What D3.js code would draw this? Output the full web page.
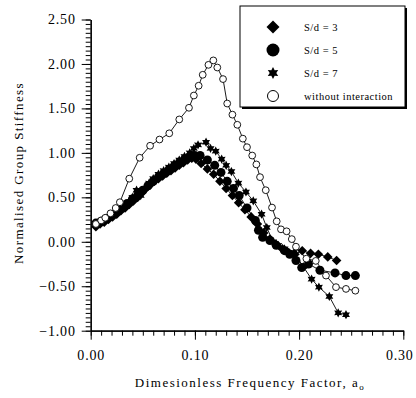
<!DOCTYPE html>
<html>
<head>
<meta charset="utf-8">
<script src="https://cdn.jsdelivr.net/npm/d3@7"></script>
<style>
  body { margin: 0; background: #fff; }
  svg text { font-family: "Liberation Serif", "Times New Roman", Times, serif !important; fill: #000; }
</style>
</head>
<body>
<div id="chart"></div>
<script>
// frequency factor a_o and normalised stiffness for each series
const sd3X = [0.005,0.009,0.013,0.017,0.021,0.025,0.029,0.033,0.037,0.041,0.045,0.049,0.053,0.057,0.061,0.065,0.069,0.073,0.077,0.081,0.085,0.089,0.093,0.097,0.101,0.106,0.112,0.118,0.124,0.130,0.136,0.142,0.148,0.154,0.160,0.166,0.172,0.178,0.184,0.190,0.196,0.203,0.211,0.2185,0.2275,0.236];
const sd3Y = [0.17,0.20,0.22,0.25,0.28,0.31,0.35,0.38,0.42,0.46,0.50,0.55,0.60,0.64,0.68,0.71,0.74,0.77,0.80,0.83,0.86,0.89,0.92,0.94,0.93,0.88,0.82,0.76,0.68,0.60,0.52,0.44,0.36,0.28,0.20,0.10,0.03,-0.03,-0.08,-0.12,-0.14,-0.10,-0.13,-0.14,-0.17,-0.21];

const sd5X = [0.005,0.010,0.015,0.020,0.025,0.030,0.035,0.040,0.045,0.050,0.055,0.060,0.065,0.070,0.075,0.080,0.085,0.090,0.095,0.100,0.105,0.112,0.119,0.125,0.131,0.137,0.1425,0.150,0.158,0.161,0.165,0.172,0.178,0.186,0.191,0.197,0.2025,0.209,0.220,0.2345,0.245,0.254];
const sd5Y = [0.21,0.23,0.26,0.30,0.34,0.38,0.43,0.48,0.52,0.58,0.63,0.68,0.73,0.77,0.81,0.85,0.89,0.93,0.96,0.97,0.97,0.92,0.86,0.78,0.68,0.60,0.52,0.38,0.24,0.13,0.05,0.015,-0.04,-0.10,-0.14,-0.21,-0.29,-0.25,-0.32,-0.35,-0.38,-0.38];

const sd7X = [0.005,0.010,0.015,0.020,0.025,0.030,0.035,0.040,0.044,0.048,0.052,0.056,0.060,0.065,0.070,0.075,0.080,0.085,0.090,0.095,0.099,0.103,0.1107,0.115,0.120,0.1257,0.130,0.135,0.1417,0.149,0.156,0.164,0.169,0.175,0.180,0.186,0.195,0.204,0.212,0.219,0.229,0.2375,0.245];
const sd7Y = [0.20,0.22,0.25,0.29,0.33,0.37,0.42,0.50,0.58,0.52,0.60,0.66,0.71,0.76,0.80,0.84,0.88,0.92,0.96,1.00,1.05,1.09,1.12,1.05,1.02,0.93,0.86,0.79,0.66,0.56,0.46,0.31,0.16,0.00,-0.04,-0.08,-0.12,-0.28,-0.42,-0.51,-0.615,-0.80,-0.82];

const noIntX = [0.005,0.010,0.014,0.019,0.024,0.028,0.037,0.047,0.057,0.066,0.0754,0.085,0.0943,0.099,0.1036,0.1075,0.113,0.1177,0.1215,0.127,0.131,0.136,0.1407,0.146,0.150,0.155,0.159,0.1625,0.168,0.174,0.1785,0.1826,0.188,0.193,0.197,0.207,0.216,0.2258,0.2354,0.245,0.254];
const noIntY = [0.20,0.24,0.27,0.32,0.38,0.445,0.71,0.945,1.08,1.15,1.22,1.376,1.507,1.645,1.755,1.878,1.99,2.04,1.96,1.83,1.555,1.43,1.316,1.16,1.064,0.97,0.87,0.727,0.58,0.385,0.23,0.14,0.118,0.03,-0.055,-0.19,-0.215,-0.38,-0.51,-0.53,-0.55];

const xTicks = [0, 0.1, 0.2, 0.3];
const yTicks = [-1, -0.5, 0, 0.5, 1, 1.5, 2, 2.5];
const legendLabels = ["S/d = 3", "S/d = 5", "S/d = 7", "without interaction"];

const W = 416, H = 398;
const svg = d3.select("#chart").append("svg").attr("width", W).attr("height", H)
  .attr("font-family", "Liberation Serif");

const x = d3.scaleLinear().domain([0, 0.3]).range([90.7, 403.3]);
const y = d3.scaleLinear().domain([-1, 2.5]).range([330.7, 19.5]);

// marker shapes
function hexagram(r) {
  const pts = [];
  for (let i = 0; i < 12; i++) {
    const a = Math.PI / 6 * i - Math.PI / 2;
    const rr = i % 2 === 0 ? r : r * 0.55;
    pts.push([rr * Math.cos(a), rr * Math.sin(a)]);
  }
  return "M" + pts.map(p => p.join(",")).join("L") + "Z";
}
function diamond(r) {
  return `M0,${-r}L${r},0L0,${r}L${-r},0Z`;
}

function drawMarker(g, kind) {
  if (kind === "diamond") g.append("path").attr("d", diamond(4.8)).attr("fill", "#000");
  else if (kind === "circle") g.append("circle").attr("r", 4.5).attr("fill", "#000");
  else if (kind === "star") g.append("path").attr("d", hexagram(4.6)).attr("fill", "#000");
  else g.append("circle").attr("r", 3.4).attr("fill", "#fff").attr("stroke", "#000").attr("stroke-width", 0.9);
}

const series = [
  { xs: sd3X, ys: sd3Y, kind: "diamond" },
  { xs: sd5X, ys: sd5Y, kind: "circle" },
  { xs: sd7X, ys: sd7Y, kind: "star" },
  { xs: noIntX, ys: noIntY, kind: "open" }
];

const line = d3.line().x(d => x(d[0])).y(d => y(d[1]));

// lines first, then markers
series.forEach(s => {
  const pts = s.xs.map((v, i) => [v, s.ys[i]]);
  svg.append("path").datum(pts)
    .attr("d", line).attr("fill", "none")
    .attr("stroke", "#000").attr("stroke-width", 0.9);
});
series.forEach(s => {
  const pts = s.xs.map((v, i) => [v, s.ys[i]]);
  svg.append("g").selectAll("g").data(pts).enter().append("g")
    .attr("transform", d => `translate(${x(d[0])},${y(d[1])})`)
    .each(function () { drawMarker(d3.select(this), s.kind); });
});

// axes
const minorX = d3.range(0, 0.3001, 0.01);
const minorY = d3.range(-1, 2.5001, 0.05);

const xAxisG = svg.append("g").attr("transform", `translate(0,${y(-1)})`);
xAxisG.call(d3.axisBottom(x).tickValues(minorX).tickSize(5).tickSizeOuter(0).tickFormat(""));
const xMajor = xAxisG.append("g").call(d3.axisBottom(x).tickValues(xTicks).tickSize(9).tickSizeOuter(0)
  .tickFormat(d3.format(".2f")).tickPadding(10));

const yAxisG = svg.append("g").attr("transform", `translate(${x(0)},0)`);
yAxisG.call(d3.axisLeft(y).tickValues(minorY).tickSize(5).tickSizeOuter(0).tickFormat(""));
yAxisG.append("g").call(d3.axisLeft(y).tickValues(yTicks).tickSize(9).tickSizeOuter(0)
  .tickFormat(d3.format(".2f")).tickPadding(6));

svg.selectAll("g").attr("font-family", null);
svg.selectAll(".domain").attr("stroke", "#000").attr("stroke-width", 1.2);
svg.selectAll(".tick line").attr("stroke", "#000").attr("stroke-width", 1);
svg.selectAll(".tick text")
  .style("font-size", "14px")
  .style("letter-spacing", "0.8px")
  .attr("fill", "#000");
// keep the last x label inside the page
xMajor.selectAll(".tick text").filter(d => d === 0.3).attr("dx", -4);

// axis titles
svg.append("text")
  .attr("x", 250).attr("y", 387)
  .attr("text-anchor", "middle")
  .style("font-size", "13px").style("letter-spacing", "1.5px")
  .text("Dimesionless Frequency Factor, a")
  .append("tspan").attr("dy", 3).style("font-size", "9px").text("o");

svg.append("text")
  .attr("transform", "translate(23,173) rotate(-90)")
  .attr("text-anchor", "middle")
  .style("font-size", "13px").style("letter-spacing", "1.4px")
  .text("Normalised Group Stiffness");

// legend
const lg = svg.append("g");
lg.append("rect").attr("x", 242).attr("y", 8).attr("width", 165).attr("height", 101).attr("fill", "#000");
lg.append("rect").attr("x", 240).attr("y", 6).attr("width", 165).attr("height", 101)
  .attr("fill", "#fff").attr("stroke", "#000").attr("stroke-width", 1);
const kinds = ["diamond", "circle", "star", "open"];
legendLabels.forEach((lab, i) => {
  const yy = 27 + i * 23;
  const m = lg.append("g").attr("transform", `translate(273,${yy})`);
  if (kinds[i] === "diamond") m.append("path").attr("d", diamond(6.5)).attr("fill", "#000");
  else if (kinds[i] === "circle") m.append("circle").attr("r", 6.5).attr("fill", "#000");
  else if (kinds[i] === "star") m.append("path").attr("d", hexagram(6)).attr("fill", "#000");
  else m.append("circle").attr("r", 5.5).attr("fill", "#fff").attr("stroke", "#000").attr("stroke-width", 1);
  lg.append("text").attr("x", 304).attr("y", yy + 3.5)
    .style("font-size", "10.5px").style("letter-spacing", "0.5px").text(lab);
});
</script>
</body>
</html>
